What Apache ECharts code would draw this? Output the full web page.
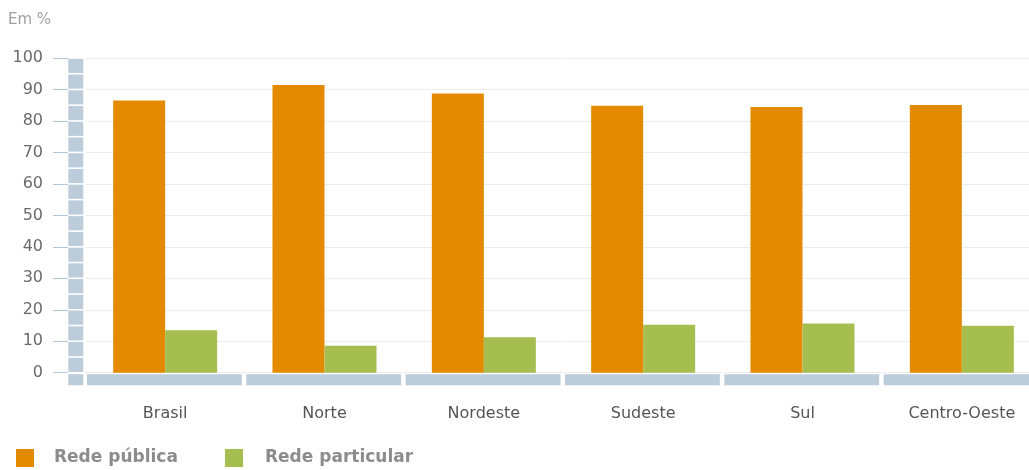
<!DOCTYPE html>
<html>
<head>
<meta charset="utf-8">
<script src="https://cdn.jsdelivr.net/npm/echarts@6/dist/echarts.min.js"></script>
<style>
  html, body { margin: 0; padding: 0; background: #ffffff; overflow: hidden; }
  #chart { width: 1045px; height: 470px; }
</style>
</head>
<body>
<div id="chart"></div>
<script>
// Distribuição das matrículas por rede de ensino, Brasil e Grandes Regiões (Em %)
const categories = ['Brasil', 'Norte', 'Nordeste', 'Sudeste', 'Sul', 'Centro-Oeste'];
const redePublica = [86.5, 91.4, 88.7, 84.8, 84.4, 85.1];
const redeParticular = [13.5, 8.6, 11.3, 15.2, 15.6, 14.9];
const seriesNames = ['Rede pública', 'Rede particular'];
const unitLabel = 'Em %';
// steps of the back wall, every 5 points from 0 to 100
const wallLevels = [0, 5, 10, 15, 20, 25, 30, 35, 40, 45, 50, 55, 60, 65, 70, 75, 80, 85, 90, 95];

const orange = '#E38A00';
const green = '#A6BD50';
const wallColor = '#BCCCDB';
const font = 'DejaVu Sans';

const chart = echarts.init(document.getElementById('chart'), null, { renderer: 'canvas' });

// left edge of the plotting area, derived from the category scale
function gridLeftOf(api) {
  const p = api.coord([0, 0]);
  return p[0] - api.size([1, 0])[0] / 2;
}

chart.setOption({
  animation: false,
  backgroundColor: '#ffffff',
  title: {
    text: unitLabel,
    left: 3, top: 8,
    textStyle: { fontFamily: font, fontSize: 15, fontWeight: 'normal', color: '#a0a0a0' }
  },
  legend: [
    {
      data: [seriesNames[0]], left: 11, top: 444,
      icon: 'rect', itemWidth: 18, itemHeight: 18,
      textStyle: { fontFamily: font, fontSize: 17, fontWeight: 'bold', color: '#8c8c8c', padding: [0, 0, 0, 15] }
    },
    {
      data: [seriesNames[1]], left: 220, top: 444,
      icon: 'rect', itemWidth: 18, itemHeight: 18,
      textStyle: { fontFamily: font, fontSize: 17, fontWeight: 'bold', color: '#8c8c8c', padding: [0, 0, 0, 17] }
    }
  ],
  grid: { left: 85.5, right: 3.5, top: 58, bottom: 97.3, containLabel: false },
  xAxis: {
    type: 'category',
    data: categories,
    axisLine: { show: false },
    axisTick: { show: false },
    axisLabel: { margin: 33, fontFamily: font, fontSize: 16, color: '#555555' }
  },
  yAxis: {
    type: 'value',
    min: 0, max: 100, interval: 10,
    offset: 17.5,
    axisLine: { show: false },
    axisTick: { show: true, length: 15, lineStyle: { color: '#B5C7D8', width: 1 } },
    axisLabel: { margin: 25, fontFamily: font, fontSize: 16, color: '#6a6a6a' },
    splitLine: { show: true, lineStyle: { color: '#ECECEC', width: 1 } }
  },
  series: [
    {
      name: seriesNames[0], type: 'bar', data: redePublica,
      barWidth: 52, barGap: '0%', itemStyle: { color: orange }, z: 3
    },
    {
      name: seriesNames[1], type: 'bar', data: redeParticular,
      barWidth: 52, barGap: '0%', itemStyle: { color: green }, z: 3
    },
    {
      // back wall on the left, one block per 5 points
      type: 'custom',
      silent: true, z: 2,
      data: wallLevels.map(v => [0, v]),
      renderItem: function (params, api) {
        const v = api.value(1);
        const low = api.coord([0, v]);
        const high = api.coord([0, v + 5]);
        const x = gridLeftOf(api) - 17.2;
        return {
          type: 'rect',
          shape: { x: x, y: high[1] + 0.8, width: 15, height: low[1] - high[1] - 1.6 },
          style: { fill: wallColor }
        };
      }
    },
    {
      // floor below each category
      type: 'custom',
      silent: true, z: 2,
      data: categories.map((c, i) => [i, 0]),
      renderItem: function (params, api) {
        const i = api.value(0);
        const p = api.coord([i, 0]);
        const w = api.size([1, 0])[0];
        const children = [{
          type: 'rect',
          shape: { x: p[0] - w / 2 + 1.5, y: p[1] + 1.5, width: w - 4.5, height: 11 },
          style: { fill: wallColor }
        }];
        if (i === 0) {
          children.push({
            type: 'rect',
            shape: { x: gridLeftOf(api) - 17.2, y: p[1] + 1.5, width: 15, height: 11 },
            style: { fill: wallColor }
          });
        }
        return { type: 'group', children: children };
      }
    }
  ]
});
</script>
</body>
</html>
